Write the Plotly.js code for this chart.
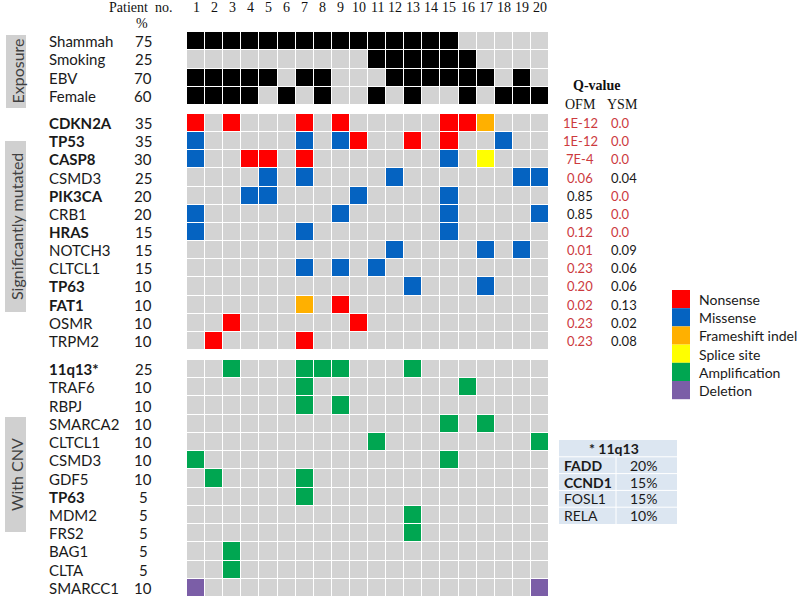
<!DOCTYPE html>
<html>
<head>
<meta charset="utf-8">
<script src="https://cdn.plot.ly/plotly-3.0.1.min.js"></script>
<style>html,body{margin:0;padding:0;background:#fff;}#chart{width:800px;height:599px;}</style>
</head>
<body>
<div id="chart"></div>
<script>
// ---------------- DATA ----------------
const patients = [1,2,3,4,5,6,7,8,9,10,11,12,13,14,15,16,17,18,19,20];

const exposureNames = ['Shammah','Smoking','EBV','Female'];
const exposurePct   = [75, 25, 70, 60];
const exposureRows  = [
  'XXXXXXXXXXXXXXX.....',
  '..........XXXXXX....',
  'XXXXX.XX...XXXXXX.X.',
  'XXXX.X.X..X.X..X.XXX'
];

const mutNames = ['CDKN2A','TP53','CASP8','CSMD3','PIK3CA','CRB1','HRAS','NOTCH3','CLTCL1','TP63','FAT1','OSMR','TRPM2'];
const mutBold  = [true,true,true,false,true,false,true,false,false,true,true,false,false];
const mutPct   = [35,35,30,25,20,20,15,15,15,10,10,10,10];
const mutRows  = [
  'N.N...N.N.....NNF...',
  'M.....M.MN..N.N..M..',
  'M..NN.N.......M.S...',
  '....M.M....M......MM',
  '...MM....M....M.....',
  'M.......M.....M....M',
  'M.....M.......M.....',
  '...........M....M.M.',
  '......M.M.M.........',
  '............M...M...',
  '......F.N...........',
  '..N......N..........',
  '.N....N.............'
];
const qOFM = ['1E-12','1E-12','7E-4','0.06','0.85','0.85','0.12','0.01','0.23','0.20','0.02','0.23','0.23'];
const qOFMsig = [true,true,true,true,false,false,true,true,true,true,true,true,true];
const qYSM = ['0.0','0.0','0.0','0.04','0.0','0.0','0.0','0.09','0.06','0.06','0.13','0.02','0.08'];
const qYSMsig = [true,true,true,false,true,true,true,false,false,false,false,false,false];

const cnvNames = ['11q13*','TRAF6','RBPJ','SMARCA2','CLTCL1','CSMD3','GDF5','TP63','MDM2','FRS2','BAG1','CLTA','SMARCC1'];
const cnvBold  = [true,false,false,false,false,false,false,true,false,false,false,false,false];
const cnvPct   = [25,10,10,10,10,10,10,5,5,5,5,5,10];
const cnvRows  = [
  '..A...AAA...A.......',
  '......A........A....',
  '......A.A...........',
  '..............A.A...',
  '..........A........A',
  'A.............A.....',
  '.A....A.............',
  '......A.............',
  '............A.......',
  '............A.......',
  '..A.................',
  '..A.................',
  'D..................D'
];

const legendNames  = ['Nonsense','Missense','Frameshift indel','Splice site','Amplification','Deletion'];
const tableGenes   = ['FADD','CCND1','FOSL1','RELA'];
const tableBold    = [true,true,false,false];
const tablePct     = ['20%','15%','15%','10%'];

// ---------------- STYLE ----------------
const codeOf = {'.':0,'X':1,'N':2,'M':3,'F':4,'S':5,'A':6,'D':7};
const codeColors = ['#d3d3d3','#000000','#ff0000','#0563c1','#ffb000','#ffff00','#00a651','#7b5ea7'];
const legendColors = codeColors.slice(2);
const nC = codeColors.length;
const colorscale = [];
codeColors.forEach((c,i)=>{ colorscale.push([i/nC,c]); colorscale.push([(i+1)/nC,c]); });

const W = 800, H = 599;
const px = v => v / W;
const py = v => 1 - v / H;
const sans = 'Lato, "Open Sans", sans-serif';
const serif = '"Liberation Serif", "DejaVu Serif", serif';
const qRed = '#cc3a3e';

function toZ(rows){ return rows.map(r => r.split('').map(ch => codeOf[ch])); }
function hm(rows, yax){
  return {
    type:'heatmap', z: toZ(rows), x: patients, y: rows.map((_,i)=>i),
    xaxis:'x', yaxis: yax, colorscale: colorscale, zmin:-0.5, zmax:nC-0.5,
    showscale:false, xgap:1, ygap:1, hoverinfo:'skip'
  };
}
const data = [hm(exposureRows,'y'), hm(mutRows,'y2'), hm(cnvRows,'y3')];

const ann = [];
const shapes = [];
function labelCol(names, bold, pct, yref){
  names.forEach((n,i)=>{
    ann.push({xref:'paper', yref:yref, x:px(47), y:i, xanchor:'left', yanchor:'middle', showarrow:false,
      text: bold && bold[i] ? '<b>'+n+'</b>' : n, font:{family:sans, size:15, color:'#1a1a1a'}});
    ann.push({xref:'paper', yref:yref, x:px(143), y:i, xanchor:'center', yanchor:'middle', showarrow:false,
      text: String(pct[i]), font:{family:sans, size:15, color:'#1a1a1a'}});
  });
}
labelCol(exposureNames, null, exposurePct, 'y');
labelCol(mutNames, mutBold, mutPct, 'y2');
labelCol(cnvNames, cnvBold, cnvPct, 'y3');

// header
ann.push({xref:'paper', yref:'paper', x:px(140), y:py(8), xanchor:'center', yanchor:'middle', showarrow:false,
  text:'Patient&nbsp;&nbsp;no.', font:{family:serif, size:14, color:'#111'}});
ann.push({xref:'paper', yref:'paper', x:px(142), y:py(24), xanchor:'center', yanchor:'middle', showarrow:false,
  text:'%', font:{family:serif, size:14, color:'#111'}});
patients.forEach(p=>{
  ann.push({xref:'x', yref:'paper', x:p, y:py(8), xanchor:'center', yanchor:'middle', showarrow:false,
    text:String(p), font:{family:serif, size:14, color:'#111'}});
});

// Q-values
ann.push({xref:'paper', yref:'paper', x:px(596), y:py(86), xanchor:'center', yanchor:'middle', showarrow:false,
  text:'<b>Q-value</b>', font:{family:serif, size:14, color:'#111'}});
ann.push({xref:'paper', yref:'paper', x:px(580), y:py(105), xanchor:'center', yanchor:'middle', showarrow:false,
  text:'OFM', font:{family:serif, size:14, color:'#111'}});
ann.push({xref:'paper', yref:'paper', x:px(622), y:py(105), xanchor:'center', yanchor:'middle', showarrow:false,
  text:'YSM', font:{family:serif, size:14, color:'#111'}});
qOFM.forEach((q,i)=>{
  ann.push({xref:'paper', yref:'y2', x:px(580), y:i, xanchor:'center', yanchor:'middle', showarrow:false,
    text:q, font:{family:sans, size:13, color: qOFMsig[i] ? qRed : '#1a1a1a'}});
  ann.push({xref:'paper', yref:'y2', x:px(609), y:i, xanchor:'left', yanchor:'middle', showarrow:false,
    text:qYSM[i], font:{family:sans, size:13, color: qYSMsig[i] ? qRed : '#1a1a1a'}});
});

// Section labels
function section(x0,x1,y0,y1,txt){
  shapes.push({type:'rect', xref:'paper', yref:'paper', x0:px(x0), x1:px(x1), y0:py(y1), y1:py(y0),
    fillcolor:'#d0d0d0', line:{width:0}, layer:'below'});
  ann.push({xref:'paper', yref:'paper', x:px((x0+x1)/2+1), y:py((y0+y1)/2), xanchor:'center', yanchor:'middle',
    showarrow:false, textangle:-90, text:txt, font:{family:sans, size:16, color:'#404040'}});
}
section(6, 26, 35, 108, 'Exposure');
section(5, 26, 141, 312, 'Significantly mutated');
section(5, 26, 417, 532, 'With CNV');

// Legend
legendNames.forEach((n,i)=>{
  const y0 = 290 + i*18.2;
  shapes.push({type:'rect', xref:'paper', yref:'paper', x0:px(672), x1:px(690), y0:py(y0+18.2), y1:py(y0),
    fillcolor:legendColors[i], line:{width:0}});
  ann.push({xref:'paper', yref:'paper', x:px(697), y:py(y0+9.5), xanchor:'left', yanchor:'middle', showarrow:false,
    text:n, font:{family:sans, size:14, color:'#1a1a1a'}});
});

// 11q13 table
const tx0 = 559, tx1 = 677, tmid = 616, ty0 = 440, rh = 16.8;
shapes.push({type:'rect', xref:'paper', yref:'paper', x0:px(tx0), x1:px(tx1), y0:py(ty0+5*rh), y1:py(ty0),
  fillcolor:'#dce6f1', line:{width:0}});
for(let r=1;r<5;r++){
  shapes.push({type:'line', xref:'paper', yref:'paper', x0:px(tx0), x1:px(tx1), y0:py(ty0+r*rh), y1:py(ty0+r*rh),
    line:{color:'#ffffff', width:1}});
}
shapes.push({type:'line', xref:'paper', yref:'paper', x0:px(tmid), x1:px(tmid), y0:py(ty0+5*rh), y1:py(ty0+rh),
  line:{color:'#ffffff', width:1}});
ann.push({xref:'paper', yref:'paper', x:px(614), y:py(ty0+rh/2), xanchor:'center', yanchor:'middle', showarrow:false,
  text:'<b>* 11q13</b>', font:{family:sans, size:14, color:'#1a1a1a'}});
tableGenes.forEach((g,i)=>{
  const yc = ty0 + (i+1.5)*rh;
  ann.push({xref:'paper', yref:'paper', x:px(562), y:py(yc), xanchor:'left', yanchor:'middle', showarrow:false,
    text: tableBold[i] ? '<b>'+g+'</b>' : g, font:{family:sans, size:14, color:'#1a1a1a'}});
  ann.push({xref:'paper', yref:'paper', x:px(643), y:py(yc), xanchor:'center', yanchor:'middle', showarrow:false,
    text: tablePct[i], font:{family:sans, size:14, color:'#1a1a1a'}});
});

const hid = {visible:false, showgrid:false, zeroline:false, fixedrange:true};
const layout = {
  width:W, height:H, margin:{l:0,r:0,t:0,b:0}, paper_bgcolor:'#ffffff', plot_bgcolor:'rgba(0,0,0,0)',
  showlegend:false,
  xaxis: Object.assign({domain:[px(187), px(549)], range:[0.5,20.5], anchor:'y'}, hid),
  yaxis: Object.assign({domain:[py(105), py(32)], range:[3.5,-0.5], anchor:'x'}, hid),
  yaxis2: Object.assign({domain:[py(350), py(114)], range:[12.5,-0.5], anchor:'x'}, hid),
  yaxis3: Object.assign({domain:[py(597), py(360)], range:[12.5,-0.5], anchor:'x'}, hid),
  annotations: ann, shapes: shapes
};
Plotly.newPlot('chart', data, layout, {staticPlot:true, displayModeBar:false});
</script>
</body>
</html>
